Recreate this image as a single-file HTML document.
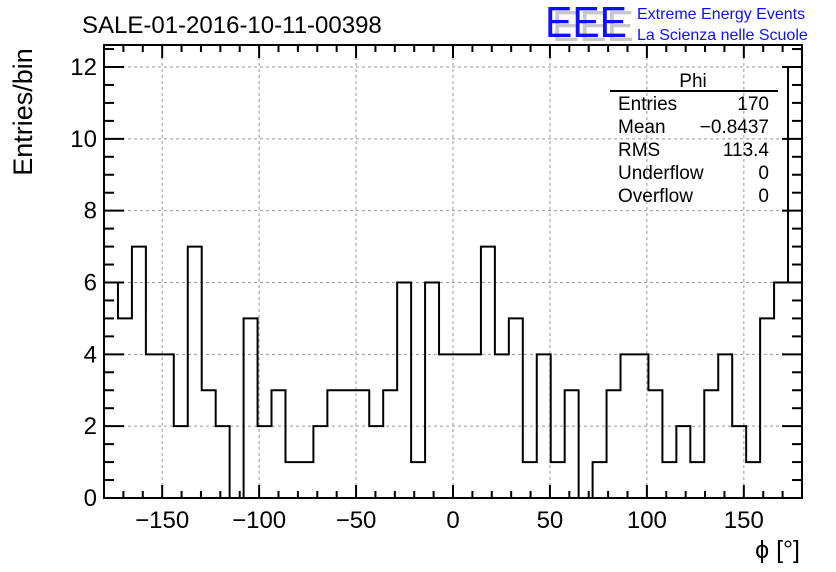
<!DOCTYPE html>
<html><head><meta charset="utf-8"><style>
body{margin:0;background:#fff;}
svg{display:block;font-family:"Liberation Sans",Arial,sans-serif;}
</style></head><body>
<svg id="c" width="836" height="572" viewBox="0 0 836 572">
<g id="grid"></g>
<g id="ticks"></g>
<path id="hist" fill="none" stroke="#000" stroke-width="2"/>
<rect x="104" y="45" width="698" height="453" fill="none" stroke="#000" stroke-width="2"/>
<g id="labels" font-size="24"></g>
<text x="82" y="33" font-size="24">SALE-01-2016-10-11-00398</text>
<text transform="translate(32,112) rotate(-90)" text-anchor="middle" font-size="27">Entries/bin</text>
<text x="800" y="558" text-anchor="end" font-size="25">ϕ [°]</text>
<g font-size="19">
<text x="693" y="87" text-anchor="middle">Phi</text>
<line x1="610" y1="91" x2="778" y2="91" stroke="#000" stroke-width="2"/>
<text x="618" y="110">Entries</text><text x="769" y="110" text-anchor="end">170</text>
<text x="618" y="133">Mean</text><text x="769" y="133" text-anchor="end">−0.8437</text>
<text x="618" y="156">RMS</text><text x="769" y="156" text-anchor="end">113.4</text>
<text x="618" y="179">Underflow</text><text x="769" y="179" text-anchor="end">0</text>
<text x="618" y="202">Overflow</text><text x="769" y="202" text-anchor="end">0</text>
</g>
<g>
<text x="552" y="41" font-size="44" fill="#c8c8c8" textLength="82" lengthAdjust="spacingAndGlyphs">EEE</text>
<text x="545" y="37" font-size="44" fill="#1010ff" textLength="82" lengthAdjust="spacingAndGlyphs">EEE</text>
<text x="637" y="19" font-size="16" fill="#1010ff">Extreme Energy Events</text>
<text x="637" y="40" font-size="16" fill="#1010ff">La Scienza nelle Scuole</text>
</g>
</svg>
<script>
const binEdgesMin=-180, binEdgesMax=180;
const counts=[6,5,7,4,4,2,7,3,2,0,5,2,3,1,1,2,3,3,3,2,3,6,1,6,4,4,4,7,4,5,1,4,1,3,0,1,3,4,4,3,1,2,1,3,4,2,1,5,6,12];
const xTicks=[-150,-100,-50,0,50,100,150];
const yTicks=[0,2,4,6,8,10,12];
const L=104,R=802,T=45,B=498;
const X=v=>L+(v-binEdgesMin)/(binEdgesMax-binEdgesMin)*(R-L);
const Y=v=>B-v*(B-67)/12;
const ns="http://www.w3.org/2000/svg";
function mk(tag,par,attrs){const e=document.createElementNS(ns,tag);for(const k in attrs)e.setAttribute(k,attrs[k]);document.getElementById(par).appendChild(e);return e;}
xTicks.forEach(t=>{const e=mk('line','grid',{x1:X(t),x2:X(t),y1:T,y2:B,stroke:'#999','stroke-dasharray':'3,3'});

});
yTicks.slice(1).forEach(t=>{const e=mk('line','grid',{x1:L,x2:R,y1:Y(t),y2:Y(t),stroke:'#999','stroke-dasharray':'3,3'});

});
for(let v=-170;v<=170;v+=10){const maj=v%50===0;const len=maj?13:7;
mk('line','ticks',{x1:X(v),x2:X(v),y1:B,y2:B-len,stroke:'#000','stroke-width':2});
mk('line','ticks',{x1:X(v),x2:X(v),y1:T,y2:T+len,stroke:'#000','stroke-width':2});}
for(let v=0;v<=12.5;v+=0.5){const maj=v%2===0;const len=maj?20:10;
mk('line','ticks',{x1:L,x2:L+len,y1:Y(v),y2:Y(v),stroke:'#000','stroke-width':2});
mk('line','ticks',{x1:R,x2:R-len,y1:Y(v),y2:Y(v),stroke:'#000','stroke-width':2});}
const w=(binEdgesMax-binEdgesMin)/counts.length;
let d='M'+X(binEdgesMin)+','+Y(counts[0]);
counts.forEach((c,i)=>{d+=' L'+X(binEdgesMin+i*w)+','+Y(c)+' L'+X(binEdgesMin+(i+1)*w)+','+Y(c);});
document.getElementById('hist').setAttribute('d',d);
xTicks.forEach(t=>{const e=mk('text','labels',{x:X(t),y:528,'text-anchor':'middle'});e.textContent=t<0?'−'+(-t):String(t);

});
yTicks.forEach(t=>{const e=mk('text','labels',{x:97,y:Y(t)+8,'text-anchor':'end'});e.textContent=t;

});
</script>
</body></html>
